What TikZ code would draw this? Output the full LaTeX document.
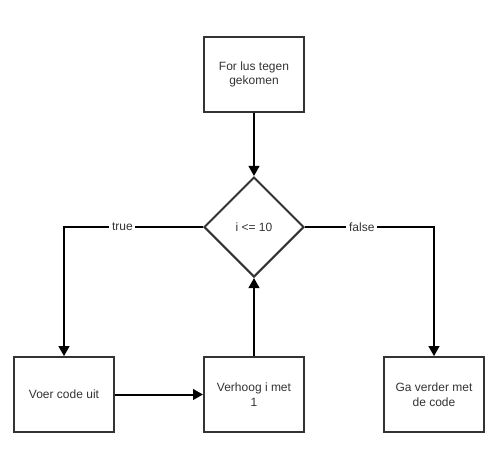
\documentclass[tikz,border=0pt]{standalone}
\usepackage{fontspec}
\setmainfont{Liberation Sans}
\usetikzlibrary{shapes.geometric,arrows.meta}
\definecolor{lijn}{HTML}{333333}
\begin{document}
\begin{tikzpicture}[x=0.75pt,y=-0.75pt,
		font=\fontsize{9}{11}\selectfont,
		blok/.style={draw=lijn, line width=1.5pt, minimum width=75pt, minimum height=56pt, align=center, text=lijn},
		keuze/.style={diamond, draw=lijn, line width=1.5pt, minimum width=75pt, minimum height=75pt, inner sep=0pt, text=lijn},
		pijl/.style={line width=1.5pt, -{Triangle[length=7.5pt,width=8pt]}},
		tekst/.style={fill=white, inner sep=2pt, text=lijn}]
				\useasboundingbox (0,0) rectangle (500,475);
				\node[blok] (start) at (254,74.5) {For lus tegen\\gekomen};
				\node[keuze] (cond) at (254,227) {i <= 10};
				\node[blok] (voer) at (64,394.5) {Voer code uit};
				\node[blok] (verhoog) at (254,394.5) {Verhoog i met\\1};
				\node[blok] (verder) at (434,394.5) {Ga verder met\\de code};
				\draw[pijl] (start) to (cond);
				\draw[pijl] (cond.west) -| node[tekst, pos=.29] {true} (voer.north);
				\draw[pijl] (cond.east) -| node[tekst, pos=.22] {false} (verder.north);
				\draw[pijl] (voer) to (verhoog);
				\draw[pijl] (verhoog) to (cond.south);
			\end{tikzpicture}
\end{document}
